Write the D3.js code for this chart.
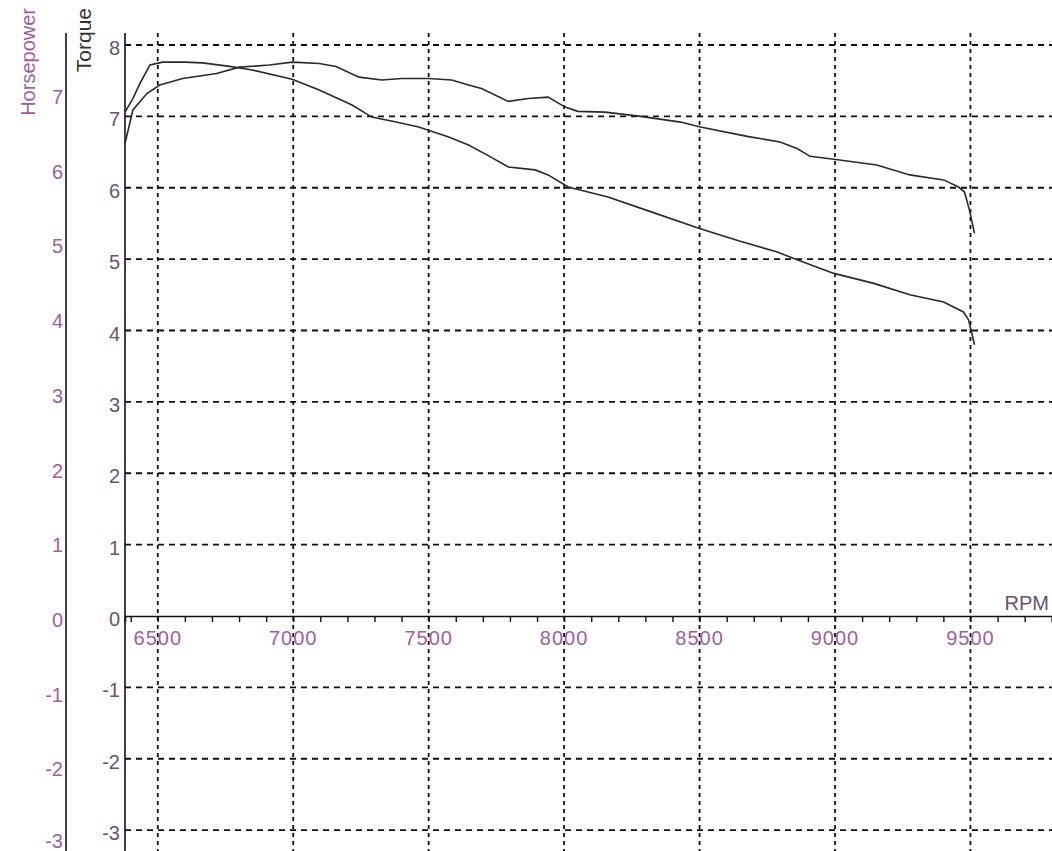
<!DOCTYPE html>
<head>
  <meta charset="utf-8" />
  <script src="https://d3js.org/d3.v7.min.js"></script>
  <style>
    body { margin: 0; background: #fff; }
    text { font-family: "Liberation Sans", Arial, sans-serif; }
  </style>
</head>
<body>
  <script>
    // rpm / value pairs (values in torque-axis units)
    var torqueRpm = [6379, 6408, 6434, 6471, 6518, 6600, 6665, 6765, 6849, 6996, 7096, 7217, 7290, 7380, 7463, 7574, 7647, 7720, 7794, 7893, 7941, 8015, 8162, 8300, 8500, 8650, 8787, 8860, 8996, 9143, 9276, 9401, 9474, 9493, 9515];
    var torqueVal = [7.06, 7.25, 7.46, 7.72, 7.76, 7.76, 7.75, 7.70, 7.65, 7.52, 7.37, 7.16, 6.99, 6.92, 6.85, 6.71, 6.60, 6.45, 6.29, 6.25, 6.18, 6.01, 5.87, 5.69, 5.43, 5.25, 5.10, 4.99, 4.80, 4.66, 4.50, 4.40, 4.26, 4.15, 3.80];
    var powerRpm = [6379, 6408, 6460, 6507, 6592, 6717, 6801, 6912, 6996, 7096, 7158, 7243, 7327, 7401, 7500, 7585, 7647, 7695, 7794, 7868, 7941, 8004, 8051, 8151, 8283, 8430, 8503, 8676, 8797, 8860, 8908, 8996, 9154, 9276, 9401, 9456, 9478, 9496, 9515];
    var powerVal = [6.62, 7.09, 7.32, 7.44, 7.53, 7.60, 7.69, 7.72, 7.76, 7.74, 7.70, 7.55, 7.51, 7.53, 7.53, 7.51, 7.44, 7.39, 7.21, 7.25, 7.27, 7.13, 7.07, 7.06, 7.00, 6.92, 6.85, 6.72, 6.64, 6.55, 6.44, 6.40, 6.32, 6.18, 6.11, 6.01, 5.94, 5.69, 5.36];
    var rpmTicks = [6500, 7000, 7500, 8000, 8500, 9000, 9500];
    var torqueTicks = [-3, -2, -1, 0, 1, 2, 3, 4, 5, 6, 7, 8];
    var hpTicks = [-3, -2, -1, 0, 1, 2, 3, 4, 5, 6, 7];

    var width = 1052, height = 851;
    var labelColor = "#a0609c";

    var svg = d3.select("body").append("svg")
      .attr("width", width).attr("height", height);

    var x = d3.scaleLinear().domain([6379, 9801]).range([125, 1052]);
    var y = d3.scaleLinear().domain([0, 8]).range([616, 45]);
    var yHp = d3.scaleLinear().domain([0, 7]).range([620, 97]);

    // grid
    svg.append("g").selectAll("line").data(torqueTicks.filter(d => d != 0)).join("line")
      .attr("x1", 125).attr("x2", width)
      .attr("y1", d => y(d)).attr("y2", d => y(d))
      .attr("stroke", "#111").attr("stroke-width", 1.8)
      .attr("stroke-dasharray", "6,5");
    svg.append("g").selectAll("line").data(rpmTicks).join("line")
      .attr("x1", d => x(d)).attr("x2", d => x(d))
      .attr("y1", 33).attr("y2", height)
      .attr("stroke", "#111").attr("stroke-width", 1.8)
      .attr("stroke-dasharray", "4,4");

    // torque axis
    svg.append("line").attr("x1", 125).attr("x2", 125).attr("y1", 33).attr("y2", height)
      .attr("stroke", "#111").attr("stroke-width", 1.6);
    svg.append("g").selectAll("text").data(torqueTicks).join("text")
      .attr("x", 120).attr("y", d => y(d) + 10)
      .attr("text-anchor", "end").attr("font-size", 20)
      .attr("fill", "#6a5470").text(d => d);

    // horsepower axis
    svg.append("line").attr("x1", 66).attr("x2", 66).attr("y1", 33).attr("y2", height)
      .attr("stroke", "#111").attr("stroke-width", 1.6);
    svg.append("g").selectAll("text").data(hpTicks).join("text")
      .attr("x", 63).attr("y", d => Math.min(yHp(d) + 7, 848))
      .attr("text-anchor", "end").attr("font-size", 20)
      .attr("fill", labelColor).text(d => d);

    svg.append("text").attr("transform", "translate(35,8) rotate(-90)")
      .attr("text-anchor", "end").attr("font-size", 20)
      .attr("fill", labelColor).text("Horsepower");
    svg.append("text").attr("transform", "translate(91,8) rotate(-90)")
      .attr("text-anchor", "end").attr("font-size", 21)
      .attr("fill", "#333").text("Torque");

    // rpm axis
    var xAxis = d3.axisBottom(x)
      .tickValues(d3.range(6400, 9801, 100))
      .tickSize(6).tickFormat("");
    var ax = svg.append("g").attr("transform", "translate(0," + y(0) + ")").call(xAxis);
    ax.select(".domain").attr("stroke", "#111").attr("stroke-width", 1.6);
    ax.selectAll(".tick line").attr("stroke", "#111").attr("stroke-width", 1.4);
    svg.append("g").selectAll("text").data(rpmTicks).join("text")
      .attr("x", d => x(d)).attr("y", 645)
      .attr("text-anchor", "middle").attr("font-size", 20)
      .attr("letter-spacing", 1)
      .attr("fill", labelColor).text(d => d);
    svg.append("text").attr("x", 1049).attr("y", 610)
      .attr("text-anchor", "end").attr("font-size", 20)
      .attr("fill", "#6a5470").text("RPM");

    // curves
    var line = d3.line().x(d => x(d[0])).y(d => y(d[1]));
    svg.append("path").datum(d3.zip(torqueRpm, torqueVal))
      .attr("d", line).attr("fill", "none")
      .attr("stroke", "#2a2a2a").attr("stroke-width", 1.6);
    svg.append("path").datum(d3.zip(powerRpm, powerVal))
      .attr("d", line).attr("fill", "none")
      .attr("stroke", "#2a2a2a").attr("stroke-width", 1.6);
  </script>
</body>
